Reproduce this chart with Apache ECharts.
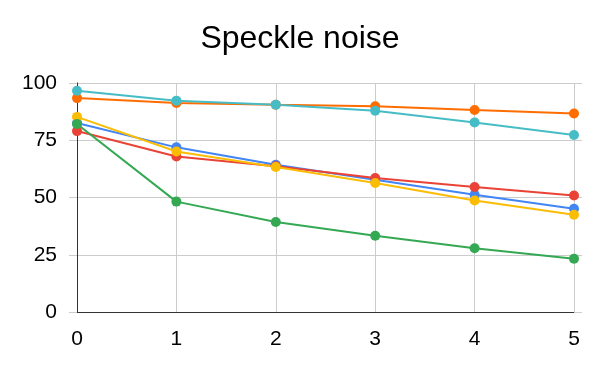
<!DOCTYPE html>
<html>
<head>
<meta charset="utf-8">
<script src="https://cdn.jsdelivr.net/npm/echarts@6/dist/echarts.min.js"></script>
<style>
  html, body { margin: 0; padding: 0; background: #fff; }
  #chart { width: 600px; height: 371px; }
</style>
</head>
<body>
<div id="chart"></div>
<script>
// x categories (noise level steps)
var steps = [0, 1, 2, 3, 4, 5];

// series values
var blue_vals   = [82.5, 71.9, 64.3, 57.8, 51.2, 45.1];
var red_vals    = [79.0, 67.9, 63.6, 58.5, 54.6, 50.9];
var yellow_vals = [85.2, 70.1, 63.3, 56.3, 48.7, 42.5];
var green_vals  = [82.1, 48.2, 39.3, 33.3, 27.8, 23.3];
var orange_vals = [93.4, 91.3, 90.5, 89.8, 88.2, 86.7];
var cyan_vals   = [96.6, 92.3, 90.5, 87.9, 82.8, 77.3];

var y_ticks = [0, 25, 50, 75, 100];

var font = "'Liberation Sans', Arial, sans-serif";

function make_series(name, vals, color) {
    var pts = [];
    for (var i = 0; i < steps.length; i++) {
        pts.push([steps[i], vals[i]]);
    }
    return {
        name: name,
        type: 'line',
        data: pts,
        symbol: 'circle',
        symbolSize: 10,
        showSymbol: true,
        itemStyle: { color: color },
        lineStyle: { color: color, width: 2 },
        emphasis: { disabled: true }
    };
}

window.onload = function () {
    var myChart = echarts.init(document.getElementById('chart'), null, { renderer: 'canvas' });

    var option = {
        animation: false,
        backgroundColor: '#ffffff',
        title: {
            text: 'Speckle noise',
            left: 'center',
            top: 18,
            textStyle: { fontFamily: font, fontSize: 32, fontWeight: 'normal', color: '#000' }
        },
        grid: { left: 77, right: 26, top: 83, bottom: 59 },
        xAxis: {
            type: 'value',
            min: steps[0],
            max: steps[steps.length - 1],
            interval: 1,
            axisLine: { show: true, lineStyle: { color: '#333', width: 1 } },
            axisTick: { show: false },
            axisLabel: { fontFamily: font, fontSize: 21, color: '#000', margin: 17 },
            splitLine: { show: true, lineStyle: { color: '#cccccc', width: 1 } }
        },
        yAxis: [{
            type: 'value',
            min: y_ticks[0],
            max: y_ticks[y_ticks.length - 1],
            interval: 25,
            axisLine: { show: true, lineStyle: { color: '#333', width: 1 } },
            axisTick: { show: true, length: 8, lineStyle: { color: '#cccccc' } },
            axisLabel: { fontFamily: font, fontSize: 21, color: '#000', margin: 20 },
            splitLine: { show: true, lineStyle: { color: '#cccccc', width: 1 } }
        }, {
            // right side only to extend the gridlines a bit
            type: 'value',
            position: 'right',
            min: y_ticks[0],
            max: y_ticks[y_ticks.length - 1],
            interval: 25,
            axisLine: { show: false },
            axisTick: { show: true, length: 8, lineStyle: { color: '#cccccc' } },
            axisLabel: { show: false },
            splitLine: { show: false }
        }],
        series: [
            make_series('blue', blue_vals, '#4285F4'),
            make_series('red', red_vals, '#EA4335'),
            make_series('yellow', yellow_vals, '#FBBC04'),
            make_series('green', green_vals, '#34A853'),
            make_series('orange', orange_vals, '#FF6D01'),
            make_series('cyan', cyan_vals, '#46BDC6')
        ]
    };

    myChart.setOption(option);
};
</script>
</body>
</html>
